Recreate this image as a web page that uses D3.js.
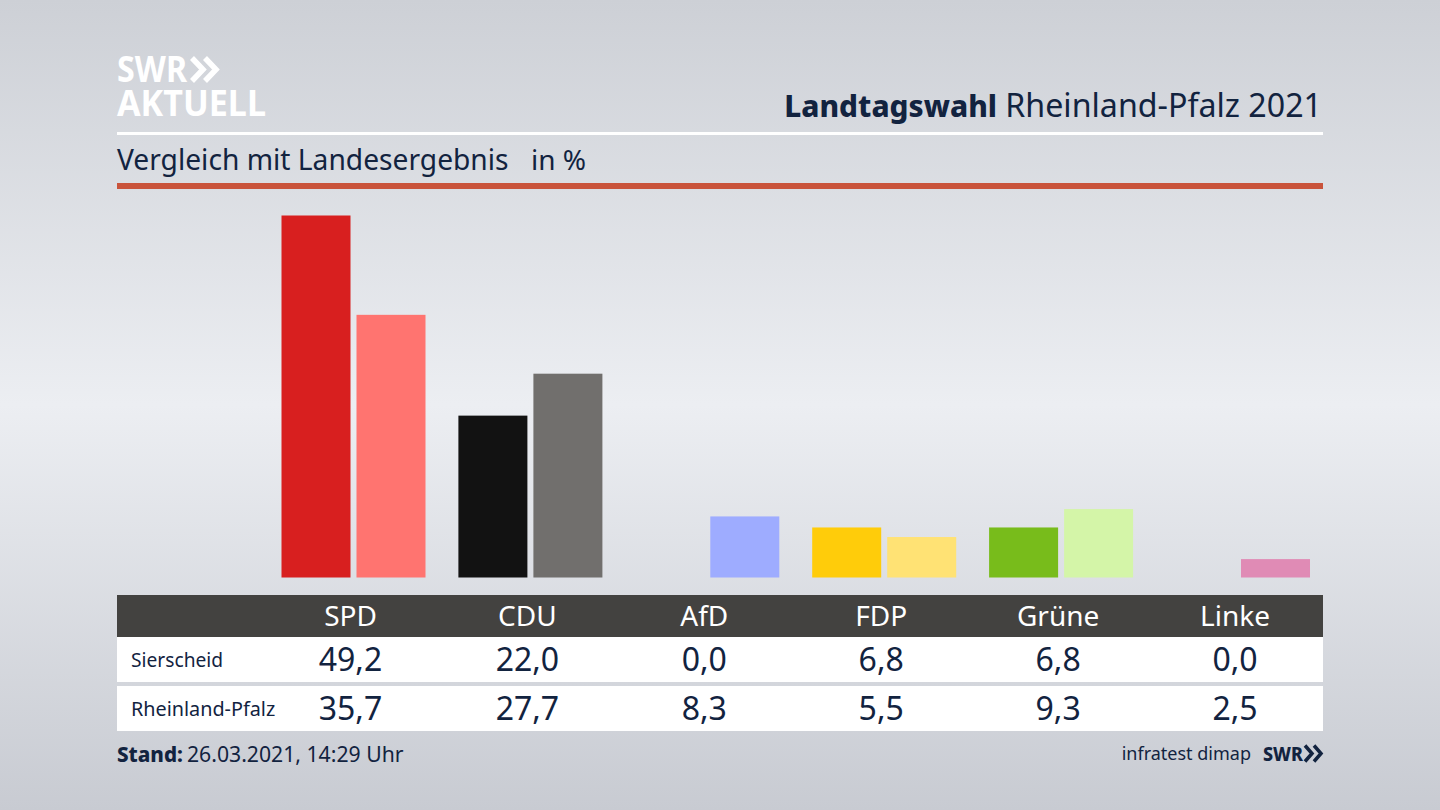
<!DOCTYPE html>
<html>
<head>
<meta charset="utf-8">
<script src="https://cdn.jsdelivr.net/npm/d3@7"></script>
<style>
html, body { margin: 0; padding: 0; background: #d5d8de; }
svg { display: block; }
text { font-family: "Noto Sans", sans-serif; }
</style>
</head>
<body>
<div id="chart"></div>
<script>
var parties = ["SPD", "CDU", "AfD", "FDP", "Grüne", "Linke"];
var sierscheid = [49.2, 22.0, 0.0, 6.8, 6.8, 0.0];
var rheinlandPfalz = [35.7, 27.7, 8.3, 5.5, 9.3, 2.5];
var rowNames = ["Sierscheid", "Rheinland-Pfalz"];
var localColors = ["#d81f1f", "#121212", "#9eacff", "#ffcc0a", "#78bc1b", "#e08bb5"];
var stateColors = ["#ff7470", "#716f6d", "#9eacff", "#ffe274", "#d4f5a8", "#e08bb5"];

var width = 1440, height = 810;
var navy = "#12233f";
var left = 117, right = 1323;
var barW = 69, barGap = 6;

var svg = d3.select("#chart").append("svg").attr("width", width).attr("height", height);

// background
var defs = svg.append("defs");
var grad = defs.append("linearGradient").attr("id", "bg").attr("x1", 0).attr("x2", 0).attr("y1", 0).attr("y2", 1);
grad.append("stop").attr("offset", "0%").attr("stop-color", "#cdd0d6");
grad.append("stop").attr("offset", "50%").attr("stop-color", "#eceef2");
grad.append("stop").attr("offset", "100%").attr("stop-color", "#c8cbd2");
svg.append("rect").attr("width", width).attr("height", height).attr("fill", "url(#bg)");

// scales
var x = d3.scalePoint().domain(parties).range([350.5, 1235]);
var y = d3.scaleLinear().domain([0, 49.2]).range([577.5, 215.5]);
var localColor = d3.scaleOrdinal().domain(parties).range(localColors);
var stateColor = d3.scaleOrdinal().domain(parties).range(stateColors);

// logo, one text element with two lines
var logo = svg.append("g").attr("fill", "#fff");
var logoText = logo.append("text").attr("font-weight", 700);
logoText.append("tspan").attr("x", 117).attr("y", 82).attr("font-size", 35)
    .attr("textLength", 70).attr("lengthAdjust", "spacingAndGlyphs").text("SWR");
logoText.append("tspan").attr("x", 117).attr("y", 116).attr("font-size", 35)
    .attr("textLength", 149).attr("lengthAdjust", "spacingAndGlyphs").text("AKTUELL");
logo.append("path").attr("fill", "none").attr("stroke", "#fff").attr("stroke-width", 5.5)
    .attr("d", "M192,58 L203,69.5 L192,81 M205,58 L216,69.5 L205,81");

// header
svg.append("text").attr("x", 997).attr("y", 117).attr("text-anchor", "end")
    .attr("font-size", 29.8).attr("font-weight", 800).attr("fill", navy).text("Landtagswahl");
svg.append("text").attr("x", 1322).attr("y", 117).attr("text-anchor", "end")
    .attr("font-size", 32.2).attr("fill", navy).text("Rheinland-Pfalz 2021");
svg.append("rect").attr("x", left).attr("y", 132).attr("width", right - left).attr("height", 3).attr("fill", "#fff");
svg.append("text").attr("x", left).attr("y", 170).attr("font-size", 28.2).attr("fill", navy)
    .text("Vergleich mit Landesergebnis");
svg.append("text").attr("x", 531).attr("y", 170).attr("font-size", 28).attr("fill", navy).text("in %");
svg.append("rect").attr("x", left).attr("y", 183).attr("width", right - left).attr("height", 6).attr("fill", "#c9533b");

// bars
var bars = svg.append("g");
bars.selectAll(".local").data(parties).enter().append("rect")
    .attr("class", "local")
    .attr("x", function(d) { return x(d) - barW; })
    .attr("y", function(d, i) { return y(sierscheid[i]); })
    .attr("width", barW)
    .attr("height", function(d, i) { return y(0) - y(sierscheid[i]); })
    .attr("fill", function(d) { return localColor(d); });
bars.selectAll(".state").data(parties).enter().append("rect")
    .attr("class", "state")
    .attr("x", function(d) { return x(d) + barGap; })
    .attr("y", function(d, i) { return y(rheinlandPfalz[i]); })
    .attr("width", barW)
    .attr("height", function(d, i) { return y(0) - y(rheinlandPfalz[i]); })
    .attr("fill", function(d) { return stateColor(d); });

// table
svg.append("rect").attr("x", left).attr("y", 595).attr("width", right - left).attr("height", 42).attr("fill", "#434240");
var axis = d3.axisBottom(x).tickSize(0).tickPadding(0).offset(0);
var axisG = svg.append("g").attr("transform", "translate(0,595)").call(axis);
axisG.select(".domain").remove();
axisG.selectAll("text").attr("y", 31).attr("dy", 0).attr("font-size", 28).attr("fill", "#fff")
    .style("font-family", '"Noto Sans", sans-serif');

var rowTops = [637, 686];
var rowHeight = [45, 45];
var rowLabelSize = [19.2, 19.8];
[sierscheid, rheinlandPfalz].forEach(function(values, r) {
    var row = svg.append("g");
    row.append("rect").attr("x", left).attr("y", rowTops[r]).attr("width", right - left).attr("height", rowHeight[r]).attr("fill", "#fff");
    row.append("text").attr("x", 131).attr("y", rowTops[r] + 29.5).attr("font-size", rowLabelSize[r]).attr("fill", navy).text(rowNames[r]);
    row.selectAll(".val").data(values).enter().append("text")
        .attr("class", "val")
        .attr("x", function(d, i) { return x(parties[i]); })
        .attr("y", rowTops[r] + 34)
        .attr("text-anchor", "middle")
        .attr("font-size", 32)
        .attr("fill", navy)
        .text(function(d) { return d.toFixed(1).replace(".", ","); });
});

// footer
svg.append("text").attr("x", left).attr("y", 762).attr("font-size", 20.6).attr("font-weight", 800).attr("fill", navy).text("Stand:");
svg.append("text").attr("x", 187).attr("y", 762).attr("font-size", 21.2).attr("fill", navy).text("26.03.2021, 14:29 Uhr");
svg.append("text").attr("x", 1251).attr("y", 760).attr("text-anchor", "end").attr("font-size", 18).attr("fill", navy).text("infratest dimap");
svg.append("text").attr("x", 1263).attr("y", 761).attr("font-size", 20).attr("font-weight", 800).attr("fill", navy)
    .attr("textLength", 40).attr("lengthAdjust", "spacingAndGlyphs").text("SWR");
svg.append("path").attr("fill", "none").attr("stroke", navy).attr("stroke-width", 3.5)
    .attr("d", "M1305,745.5 L1312,753.5 L1305,761.5 M1314,745.5 L1321,753.5 L1314,761.5");
</script>
</body>
</html>
